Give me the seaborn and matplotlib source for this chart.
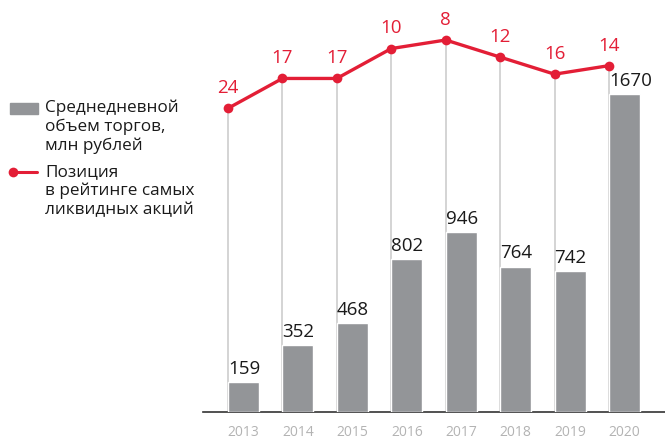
import numpy as np
import pandas as pd
import matplotlib.pyplot as plt
import seaborn as sns
from matplotlib.patches import Rectangle
from matplotlib.lines import Line2D

# === Hardcoded data ===
years = ["2013", "2014", "2015", "2016", "2017", "2018", "2019", "2020"]
volume = [159, 352, 468, 802, 946, 764, 742, 1670]
rank = [24, 17, 17, 10, 8, 12, 16, 14]

df = pd.DataFrame({"Year": years, "Volume": volume, "Rank": rank})

# === Styles ===
gray = "#939598"
red = "#e31e36"
label_gray = "#b3b3b3"
bar_w = 0.57

sns.set_theme(style="white")
plt.rcParams["font.family"] = ["Open Sans", "DejaVu Sans"]

fig = plt.figure(figsize=(6.65, 4.38), dpi=100)
ax = fig.add_axes([203 / 665, 26 / 438, 462 / 665, 412 / 438])

# bars
sns.barplot(data=df, x="Year", y="Volume", color=gray, width=bar_w,
            saturation=1, ax=ax, zorder=3)

# rank line on twin axis, anchored at left edge of each bar
ax2 = ax.twinx()
df["xpos"] = np.arange(len(df)) - bar_w / 2
ax2.set_ylim(95.1, -1.37)
ax.set_ylim(0, 2164)
ax.set_xlim(-0.744, 7.744)

# vertical connectors from points down to baseline
for xp, r in zip(df["xpos"], df["Rank"]):
    ax2.plot([xp, xp], [r, 95.1], color="#d4d4d4", lw=1.4, zorder=1)

sns.lineplot(data=df, x="xpos", y="Rank", color=red, lw=2.4, marker="o",
             markersize=7, markeredgewidth=0, ax=ax2, zorder=5)

for xp, r in zip(df["xpos"], df["Rank"]):
    ax2.annotate(str(r), (xp, r), xytext=(0, 8), textcoords="offset points",
                 ha="center", va="bottom", color=red, fontsize=13.5)

for i, v in enumerate(df["Volume"]):
    ax.annotate(str(v), (i - bar_w / 2, v), xytext=(0, 3), textcoords="offset points",
                ha="left", va="bottom", color="#1a1a1a", fontsize=13.5)

# axes cosmetics
for a in (ax, ax2):
    for s in ("top", "right", "left"):
        a.spines[s].set_visible(False)
    a.set_yticks([])
    a.set_ylabel("")
    a.set_xlabel("")
    a.patch.set_visible(False)
ax2.spines["bottom"].set_visible(False)
ax.spines["bottom"].set_color("#333333")
ax.spines["bottom"].set_linewidth(1.2)
ax.tick_params(axis="x", length=0, pad=9, labelsize=10, labelcolor=label_gray)
ax2.tick_params(axis="x", length=0, labelbottom=False)
ax.set_zorder(ax2.get_zorder() + 1)

# === Legend (drawn manually) ===
fig.patches.append(Rectangle((10 / 665, 1 - 114 / 438), 28 / 665, 11 / 438,
                             transform=fig.transFigure, color=gray))
fig.text(45 / 665, 1 - 99 / 438, "Среднедневной\nобъем торгов,\nмлн рублей",
         ha="left", va="top", fontsize=12.3, color="#1a1a1a", linespacing=1.22)
fig.lines.append(Line2D([13 / 665, 37 / 665], [1 - 172 / 438, 1 - 172 / 438],
                        transform=fig.transFigure, color=red, lw=2.2))
fig.lines.append(Line2D([13 / 665], [1 - 172 / 438], transform=fig.transFigure,
                        color=red, marker="o", markersize=7, markeredgewidth=0))
fig.text(45 / 665, 1 - 164 / 438, "Позиция\nв рейтинге самых\nликвидных акций",
         ha="left", va="top", fontsize=12.3, color="#1a1a1a", linespacing=1.22)

fig.savefig("out.png", dpi=100)
